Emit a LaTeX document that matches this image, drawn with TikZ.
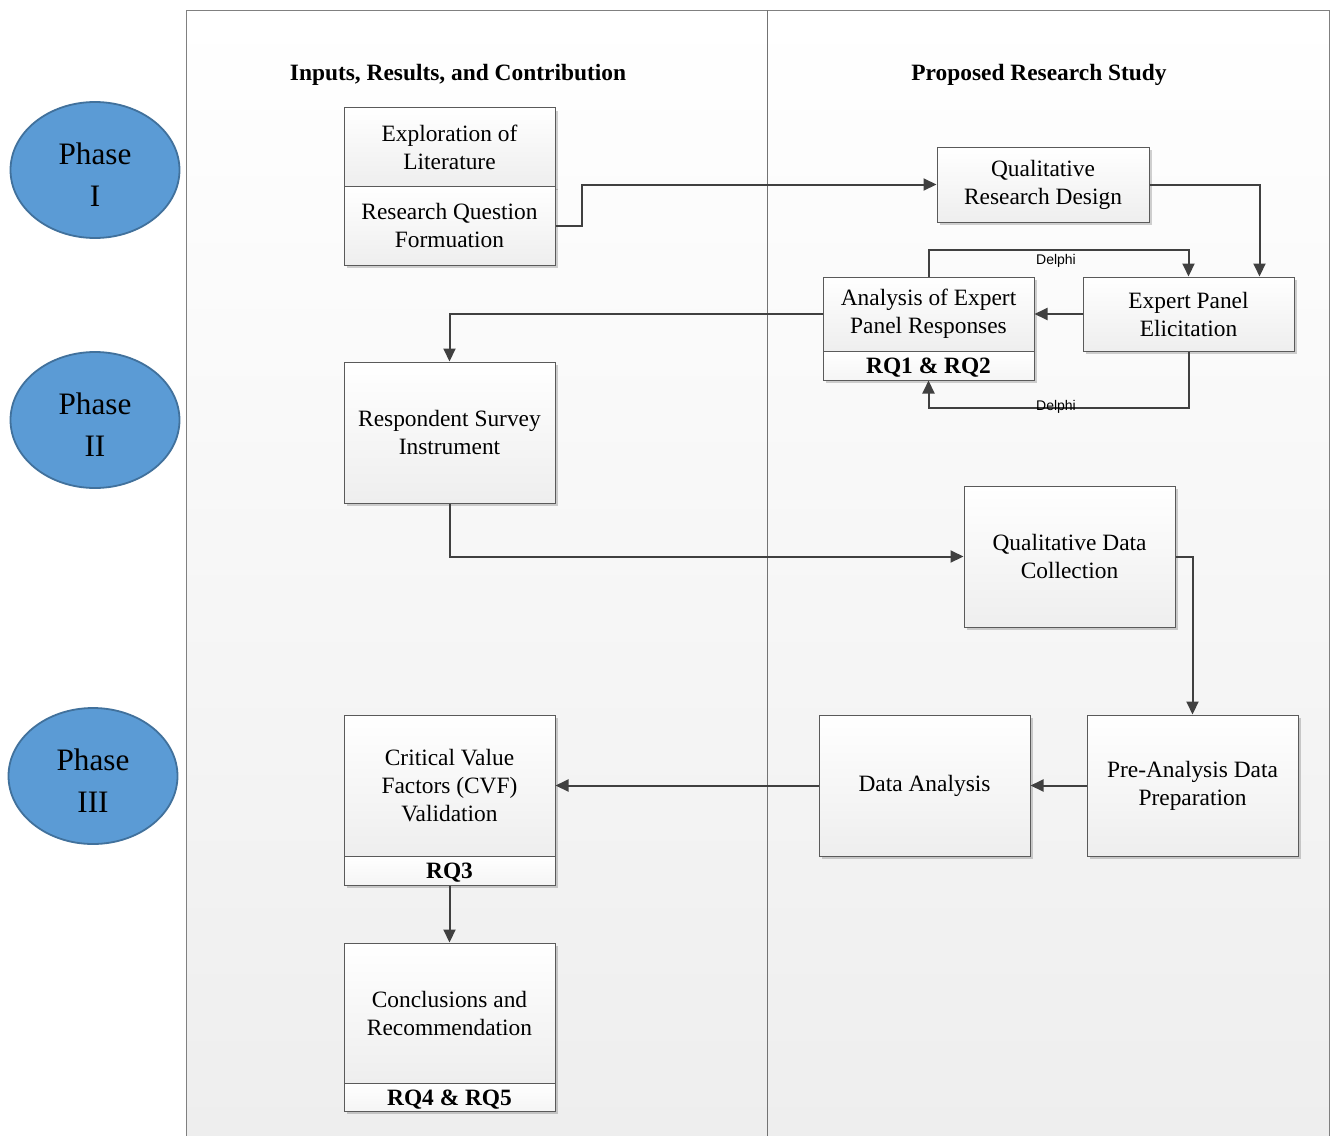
\documentclass[tikz,border=0pt]{standalone}
\usepackage{fontspec}
\setmainfont{Liberation Serif}
\newfontfamily\delphifont{Liberation Sans}
\usetikzlibrary{shadows,arrows.meta,shapes.geometric}
\definecolor{boxline}{RGB}{90,90,90}
\definecolor{boxfill}{RGB}{238,238,238}
\definecolor{lanebot}{RGB}{238,238,238}
\definecolor{arrowc}{RGB}{64,64,64}
\definecolor{phasefill}{RGB}{91,155,213}
\definecolor{phaseline}{RGB}{65,113,156}
\tikzset{
  box/.style={draw=boxline, line width=0.5pt, top color=white, bottom color=boxfill,
    minimum width=105.5pt, align=center, inner sep=2pt,
    font=\fontsize{11.7}{14}\selectfont,
    drop shadow={shadow xshift=1.5pt, shadow yshift=-1.5pt, fill=black, opacity=0.18}},
  strip/.style={draw=boxline, line width=0.5pt, top color=white, bottom color=white!96!black,
    minimum width=105.5pt, minimum height=14.5pt, align=center, inner sep=0pt,
    text height=10.3pt, text depth=2.3pt,
    font=\fontsize{11.7}{14}\selectfont\bfseries,
    drop shadow={shadow xshift=1.5pt, shadow yshift=-1.5pt, fill=black, opacity=0.18}},
  phase/.style={ellipse, draw=phaseline, line width=0.9pt, fill=phasefill,
    minimum width=84.5pt, minimum height=68pt, inner sep=0pt},
  phaselabel/.style={font=\fontsize{15.6}{21}\selectfont, align=center, yshift=-2.2pt},
  lanetitle/.style={font=\fontsize{11.7}{14}\selectfont\bfseries},
  arr/.style={draw=arrowc, line width=1pt, -{Triangle[length=6.5pt,width=6pt]}},
  delphi/.style={font=\delphifont\fontsize{7}{8}\selectfont, inner sep=1pt}
}
\begin{document}
\begin{tikzpicture}[x=0.5pt,y=-0.5pt]
\useasboundingbox (0,0) rectangle (1332,1135);
% lanes
\shade[top color=white, bottom color=lanebot] (186,10) rectangle (1329,1140);
\draw[draw=gray, line width=0.5pt] (186,1140) -- (186,10) -- (1329,10) -- (1329,1140);
\draw[draw=gray!90!black, line width=0.5pt] (767,10) -- (767,1140);
\node[lanetitle] (t1) at (458,75) {Inputs, Results, and Contribution};
\node[lanetitle] (t2) at (1039,75) {Proposed Research Study};
% phases
\node[phase, label={[phaselabel]center:Phase\\I}] (p1) at (95,170) {};
\node[phase, label={[phaselabel]center:Phase\\II}] (p2) at (95,420) {};
\node[phase, label={[phaselabel]center:Phase\\III}] (p3) at (93,776) {};
% boxes
\node[box, minimum height=39.5pt] (expl) at (449.5,147) {Exploration of\\Literature};
\node[box, minimum height=39.5pt] (rqf) at (449.5,225.5) {Research Question\\Formuation};
\node[box, minimum width=106pt, minimum height=37.5pt] (qrd) at (1043,184.5) {Qualitative\\Research Design};
\node[box, minimum height=37pt] (epe) at (1188.5,314) {Expert Panel\\Elicitation};
\node[box, minimum height=37pt] (ana) at (928.5,314) {Analysis of Expert\\Panel Responses};
\node[strip] (anarq) at (928.5,365.5) {RQ1 \& RQ2};
\node[box, minimum height=70.5pt] (rsi) at (449.5,432.5) {Respondent Survey\\Instrument};
\node[box, minimum height=70.5pt] (qdc) at (1069.5,556.5) {Qualitative Data\\Collection};
\node[box, minimum height=70.5pt] (padp) at (1192.5,785.5) {Pre-Analysis Data\\Preparation};
\node[box, minimum height=70.5pt] (da) at (924.5,785.5) {Data Analysis};
\node[box, minimum height=70.5pt] (cvf) at (449.5,785.5) {Critical Value\\Factors (CVF)\\Validation};
\node[strip] (cvfrq) at (449.5,870.5) {RQ3};
\node[box, minimum height=70pt] (conc) at (449.5,1013) {Conclusions and\\Recommendation};
\node[strip, minimum height=14pt] (concrq) at (449.5,1097) {RQ4 \& RQ5};
% connectors
\draw[arr] (rqf.east) -- ++(26,0) |- (qrd.west);
\draw[arr] (qrd.east) -| ([xshift=-17.5pt]epe.north east);
\draw[arr] (epe.west) -- (ana.east);
\draw[arr] (ana.north) -- ++(0,-27) -| (epe.north);
\node[delphi] (d1) at (1056,261) {Delphi};
\draw[arr] (epe.south) -- ++(0,56) -| (anarq.south);
\node[delphi] (d2) at (1056,407) {Delphi};
\draw[arr] (ana.west) -| (rsi.north);
\draw[arr] (rsi.south) |- (qdc.west);
\draw[arr] (qdc.east) -| (padp.north);
\draw[arr] (padp.west) -- (da.east);
\draw[arr] (da.west) -- (cvf.east);
\draw[arr] (cvfrq.south) -- (conc.north);
\end{tikzpicture}
\end{document}
